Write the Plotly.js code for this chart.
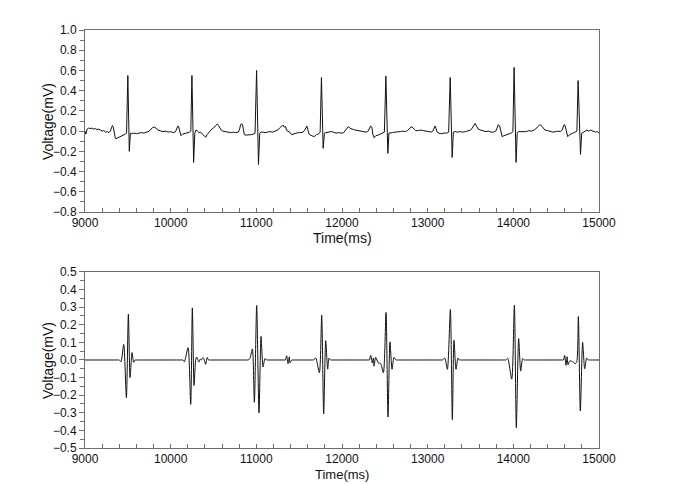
<!DOCTYPE html>
<html>
<head>
<meta charset="utf-8">
<script src="https://cdn.plot.ly/plotly-3.0.1.min.js"></script>
<style>html,body{margin:0;padding:0;background:#fff;}#chart{width:685px;height:484px;}</style>
</head>
<body>
<div id="chart"></div>
<script>
// Raw ECG (top panel): time (ms) and voltage (mV)
const rawTime = [
9000,9010,9025,9040,9060,9080,9100,9120,9140,9160,9180,9200,9220,9240,9260,9280,9295,9310,9320,9330,9340,9355,9375,9400,9430,9450,9470,9485,9500,9517,9530,
9545,9570,9600,9630,9660,9690,9720,9750,9770,9790,9810,9830,9850,9880,9910,9940,9970,10000,10030,10050,10065,10080,10090,10100,10110,10120,10140,10170,10200,10220,10235,10248,10268,10282,
10295,10310,10330,10350,10370,10390,10410,10425,10440,10460,10480,10500,10520,10545,10560,10575,10590,10610,10640,10670,10700,10730,10760,10790,10805,10815,10828,10840,10850,10860,10880,10910,10940,10965,10985,11003,11025,11040,
11055,11080,11100,11130,11160,11190,11220,11250,11270,11290,11310,11325,11340,11355,11370,11390,11410,11430,11460,11490,11520,11545,11565,11580,11590,11600,11615,11635,11655,11675,11700,11725,11745,11760,11780,11795,
11810,11840,11870,11900,11930,11960,11990,12020,12045,12065,12075,12090,12110,12135,12160,12190,12220,12250,12280,12300,12320,12335,12348,12360,12375,12395,12420,12445,12470,12495,12512,12535,12548,
12565,12590,12620,12650,12680,12710,12740,12765,12785,12805,12820,12840,12860,12890,12920,12950,12980,13010,13040,13060,13075,13087,13098,13110,13130,13160,13190,13220,13245,13263,13286,13300,
13320,13350,13380,13410,13440,13470,13500,13520,13540,13553,13570,13590,13620,13650,13680,13710,13740,13770,13795,13810,13825,13840,13855,13870,13890,13920,13950,13975,13995,14009,14032,14045,
14060,14090,14120,14150,14180,14210,14240,14260,14280,14300,14315,14330,14350,14370,14400,14430,14460,14490,14520,14550,14570,14585,14595,14605,14620,14635,14650,14670,14690,14710,14730,14742,14756,14784,14798,
14815,14840,14860,14880,14900,14930,14960,14980,15000
];
const rawVoltage = [
0.0,-0.03,0.02,0.03,0.025,0.03,0.02,0.025,0.015,0.02,0.01,0.0,0.005,-0.01,-0.005,-0.015,0.0,0.04,0.055,0.04,-0.02,-0.075,-0.07,-0.06,-0.05,-0.045,-0.03,-0.02,0.55,-0.2,-0.02,
-0.025,-0.02,-0.025,-0.02,-0.015,-0.02,-0.01,0.0,0.02,0.035,0.04,0.03,0.01,0.005,-0.005,0.0,-0.01,-0.005,-0.015,-0.01,0.01,0.045,0.05,0.02,-0.03,-0.045,-0.03,-0.025,-0.015,-0.01,0.0,0.55,-0.31,-0.02,
0.01,0.005,-0.015,-0.01,-0.03,-0.05,-0.06,-0.035,-0.015,0.0,0.02,0.03,0.05,0.07,0.055,0.03,0.01,0.0,-0.005,-0.01,-0.015,-0.01,-0.015,-0.01,0.02,0.06,0.075,0.06,0.0,-0.035,-0.04,-0.04,-0.035,-0.03,-0.02,0.6,-0.33,-0.02,
-0.01,-0.01,-0.015,-0.01,-0.005,-0.01,0.0,0.01,0.03,0.05,0.06,0.04,0.045,0.005,-0.005,-0.01,-0.035,-0.03,-0.02,-0.015,-0.015,-0.01,0.01,0.045,0.05,0.02,-0.03,-0.04,-0.05,-0.055,-0.035,-0.03,-0.01,0.53,-0.17,-0.02,
-0.015,-0.01,-0.005,-0.01,-0.02,-0.015,-0.02,-0.015,0.01,0.035,0.045,0.03,0.02,0.015,0.01,0.005,0.0,-0.005,-0.01,-0.005,0.02,0.05,0.04,-0.03,-0.065,-0.045,-0.04,-0.03,-0.025,-0.01,0.545,-0.22,-0.02,
-0.015,-0.015,-0.01,-0.01,-0.005,0.0,-0.005,0.005,0.025,0.04,0.04,0.02,0.005,0.005,0.01,0.005,0.0,-0.01,-0.01,0.0,0.035,0.05,0.025,-0.01,-0.02,-0.025,-0.02,-0.02,-0.01,0.53,-0.26,-0.01,
-0.005,-0.01,-0.005,-0.01,-0.005,0.0,0.01,0.03,0.06,0.075,0.05,0.02,0.01,0.005,-0.005,0.0,-0.01,-0.01,0.0,0.03,0.065,0.05,0.0,-0.055,-0.045,-0.035,-0.03,-0.02,-0.005,0.63,-0.31,-0.02,
-0.005,-0.005,0.0,-0.005,0.005,0.0,0.01,0.02,0.04,0.06,0.065,0.05,0.025,0.01,0.005,-0.005,-0.01,-0.005,0.0,-0.005,0.01,0.05,0.065,0.05,0.0,-0.055,-0.04,-0.025,-0.02,-0.015,-0.01,0.0,0.50,-0.23,-0.02,
-0.01,0.0,0.01,0.0,0.01,0.0,-0.01,-0.005,-0.02
];

// Filtered / decomposed signal (bottom panel)
const filtTime = [
9000,9380,9400,9420,9452,9483,9506,9526,9549,9568,9584,9600,
10130,10145,10160,10203,10234,10253,10273,10292,10304,10318,10331,10345,10358,10370,10382,10396,10409,10420,10428,10440,10455,
10890,10905,10926,10954,10977,11004,11031,11055,11078,11101,11121,11135,
11325,11340,11354,11370,11385,11393,11413,11428,
11655,11670,11693,11736,11763,11786,11810,11833,11848,11868,11882,
12305,12320,12335,12354,12366,12374,12393,12424,12450,12483,12514,12537,12560,12584,12607,12630,12645,
13155,13170,13200,13230,13265,13288,13307,13331,13354,13370,13385,
13895,13910,13934,13981,14012,14035,14062,14086,14109,14128,14142,
14570,14585,14599,14615,14627,14638,14660,14700,14720,14740,14759,14782,14809,14833,14856,14876,14890,15000
];
const filtVoltage = [
0.0,0.0,0.0,-0.01,0.088,-0.214,0.26,-0.10,0.042,-0.013,0.0,0.0,
0.0,0.0,-0.01,0.07,-0.252,0.296,-0.145,0.0,0.017,0.0,-0.012,0.005,0.0,0.01,0.012,-0.005,-0.025,0.005,0.015,0.0,0.0,
0.0,0.0,0.01,0.063,-0.24,0.31,-0.30,0.134,-0.04,0.008,0.0,0.0,
0.0,0.0,0.024,-0.022,0.018,-0.016,0.0,0.0,
0.0,0.0,0.012,-0.072,0.254,-0.306,0.11,-0.052,0.01,0.0,0.0,
0.0,0.0,0.026,-0.017,0.011,-0.035,0.015,-0.017,-0.02,-0.072,0.27,-0.324,0.103,-0.053,0.015,0.0,0.0,
0.0,0.0,0.01,-0.053,0.287,-0.339,0.112,-0.053,0.011,0.0,0.0,
0.0,0.0,0.01,-0.109,0.311,-0.385,0.122,-0.063,0.008,0.0,0.0,
0.0,0.0,0.026,-0.03,0.018,-0.026,-0.005,-0.012,-0.022,-0.01,0.247,-0.29,0.10,-0.05,0.011,0.0,0.0,0.0
];

const topTicks = [-0.8,-0.6,-0.4,-0.2,0.0,0.2,0.4,0.6,0.8,1.0];
const botTicks = [-0.5,-0.4,-0.3,-0.2,-0.1,0.0,0.1,0.2,0.3,0.4,0.5];
const xTicks = [9000,10000,11000,12000,13000,14000,15000];

const axisColor = '#6e6e6e';
const fnt = {family: 'Liberation Sans, Arial, sans-serif', size: 12, color: '#111'};
const titleFont = {family: 'Liberation Sans, Arial, sans-serif', size: 14, color: '#111'};

function xaxisCfg(anchor) {
  return {
    anchor: anchor, range: [9000, 15000], tickvals: xTicks, ticktext: xTicks.map(String),
    ticks: 'inside', ticklen: 4, tickcolor: axisColor, showline: true, linecolor: axisColor,
    linewidth: 1, mirror: true, showgrid: false, zeroline: false, tickfont: fnt,
    minor: {dtick: 200, ticks: 'inside', ticklen: 4, tickcolor: axisColor, showgrid: false}
  };
}
function yaxisCfg(anchor, range, ticks, minorStep, domain) {
  return {
    anchor: anchor, domain: domain, range: range, tickvals: ticks,
    ticktext: ticks.map(v => (v < 0 ? '\u2212' : '') + Math.abs(v).toFixed(1)),
    ticks: 'outside', ticklen: 5, tickcolor: axisColor, showline: true, linecolor: axisColor,
    linewidth: 1, mirror: true, showgrid: false, zeroline: false, tickfont: fnt,
    minor: {dtick: minorStep, ticks: 'outside', ticklen: 4, tickcolor: axisColor, showgrid: false}
  };
}

const traces = [
  {x: rawTime, y: rawVoltage, xaxis: 'x', yaxis: 'y', mode: 'lines',
   line: {color: '#111', width: 1}, hoverinfo: 'skip'},
  {x: filtTime, y: filtVoltage, xaxis: 'x2', yaxis: 'y2', mode: 'lines',
   line: {color: '#111', width: 1, shape: 'spline', smoothing: 0.7}, hoverinfo: 'skip'}
];

const layout = {
  width: 685, height: 484,
  margin: {l: 85, r: 86, t: 30, b: 36},
  paper_bgcolor: '#fff', plot_bgcolor: '#fff',
  showlegend: false,
  xaxis: xaxisCfg('y'),
  yaxis: yaxisCfg('x', [-0.8, 1.0], topTicks, 0.1, [0.5646, 1.0]),
  xaxis2: xaxisCfg('y2'),
  yaxis2: yaxisCfg('x2', [-0.5, 0.5], botTicks, 0.05, [0.0, 0.4211]),
  annotations: [
    {text: 'Voltage(mV)', xref: 'paper', yref: 'paper', x: -0.072, y: 0.782,
     xanchor: 'center', yanchor: 'middle', textangle: -90, showarrow: false, font: titleFont},
    {text: 'Voltage(mV)', xref: 'paper', yref: 'paper', x: -0.072, y: 0.2105,
     xanchor: 'center', yanchor: 'middle', textangle: -90, showarrow: false, font: titleFont},
    {text: 'Time(ms)', xref: 'paper', yref: 'paper', x: 0.5, y: 0.5024,
     xanchor: 'center', yanchor: 'middle', showarrow: false, font: titleFont},
    {text: 'Time(ms)', xref: 'paper', yref: 'paper', x: 0.5, y: -0.0837,
     xanchor: 'center', yanchor: 'bottom', showarrow: false, borderpad: 0,
     font: {family: titleFont.family, size: 13, color: '#111'}}
  ]
};

Plotly.newPlot('chart', traces, layout, {displayModeBar: false, staticPlot: true});
</script>
</body>
</html>
